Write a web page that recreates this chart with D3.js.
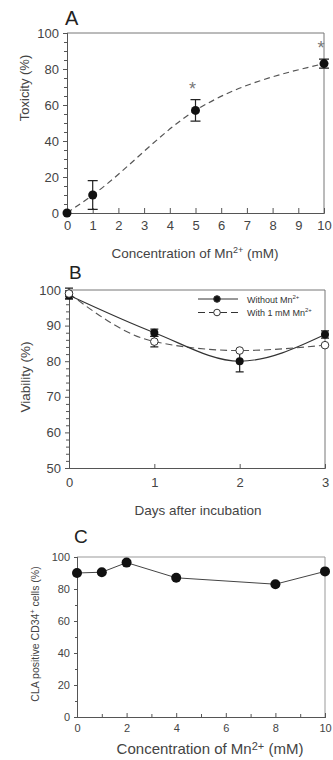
<!DOCTYPE html>
<html>
<head>
<meta charset="utf-8">
<script src="https://cdn.jsdelivr.net/npm/d3@7"></script>
<style>
  body { margin: 0; background: #fff; }
  svg { display: block; font-family: "Liberation Sans", Arial, sans-serif; }
  .tick text { fill: #444; }
</style>
</head>
<body>
<div id="chart"></div>
<script>
// Panel A: toxicity vs Mn2+ concentration
const concA = [0, 1, 5, 10];
const toxicity = [0, 10, 57, 83];
const toxicityErr = [0, 8, 6, 2.5];
const starred = [5, 10];
const ticksAX = [0, 1, 2, 3, 4, 5, 6, 7, 8, 9, 10];
const ticksAY = [0, 20, 40, 60, 80, 100];

// Panel B: viability over days
const days = [0, 1, 2, 3];
const viabWithout = [98.5, 88, 80, 87.5];
const viabWithoutErr = [1, 1, 3, 1];
const viabWith = [99, 85.5, 83, 84.5];
const viabWithErr = [1.5, 1.5, 0, 0];
const ticksBY = [50, 60, 70, 80, 90, 100];

// Panel C: CLA positive CD34+ cells
const concC = [0, 1, 2, 4, 8, 10];
const claPositive = [90, 90.5, 96.5, 87, 83, 91];
const ticksCX = [0, 2, 4, 6, 8, 10];
const ticksCY = [0, 20, 40, 60, 80, 100];

const W = 333, H = 760;
const svg = d3.select('#chart').append('svg')
  .attr('width', W).attr('height', H);

const axisCol = '#555';
const textCol = '#444';

function styleAxis(g, fs) {
  g.select('.domain').attr('stroke', axisCol);
  g.selectAll('.tick line').attr('stroke', axisCol);
  g.selectAll('.tick text').attr('font-size', fs).attr('fill', textCol);
}

function frame(x0, x1, y0, y1, col) {
  svg.append('path')
    .attr('d', `M${x0},${y0}H${x1}V${y1}`)
    .attr('fill', 'none').attr('stroke', col).attr('stroke-width', 1);
}

function errBars(data, x, y, cap) {
  data.forEach(d => {
    if (!d.e) return;
    svg.append('path')
      .attr('d', `M${x(d.x)},${y(d.v - d.e)}V${y(d.v + d.e)}` +
        `M${x(d.x) - cap},${y(d.v - d.e)}h${cap * 2}M${x(d.x) - cap},${y(d.v + d.e)}h${cap * 2}`)
      .attr('stroke', '#222').attr('stroke-width', 1.2).attr('fill', 'none');
  });
}

// ---------- Panel A ----------
const xA = d3.scaleLinear().domain([0, 10]).range([67, 324]);
const yA = d3.scaleLinear().domain([0, 100]).range([213, 33]);

frame(xA(0), xA(10), yA(100), yA(0), '#777');

svg.append('g').attr('transform', `translate(0,${yA(0)})`)
  .call(d3.axisBottom(xA).tickValues(ticksAX).tickSize(-5).tickPadding(8))
  .call(g => styleAxis(g, 13));
svg.append('g').attr('transform', `translate(${xA(0)},0)`)
  .call(d3.axisLeft(yA).tickValues(ticksAY).tickSize(4).tickPadding(4))
  .call(g => styleAxis(g, 13));
svg.append('g').attr('transform', `translate(${xA(0)},0)`)
  .call(d3.axisLeft(yA).tickValues(d3.range(5, 100, 5).filter(v => v % 20)).tickSize(3).tickFormat(''))
  .call(g => styleAxis(g, 13));

const dataA = concA.map((c, i) => ({ x: c, v: toxicity[i], e: toxicityErr[i] }));
const fitA = d3.line().x(d => xA(d.x)).y(d => yA(d.v)).curve(d3.curveMonotoneX);
svg.append('path').datum(dataA)
  .attr('d', fitA).attr('fill', 'none')
  .attr('stroke', '#555').attr('stroke-width', 1.2).attr('stroke-dasharray', '6,4');
errBars(dataA, xA, yA, 5);
svg.selectAll('.ptA').data(dataA).enter().append('circle')
  .attr('cx', d => xA(d.x)).attr('cy', d => yA(d.v)).attr('r', 4.5).attr('fill', '#111');
svg.selectAll('.starA').data(dataA.filter(d => starred.includes(d.x))).enter().append('text')
  .attr('x', d => xA(d.x) - 3).attr('y', d => yA(d.v + d.e) - 5)
  .attr('text-anchor', 'middle').attr('font-size', 18).attr('fill', '#777').text('*');

svg.append('text').attr('x', 65).attr('y', 25).attr('font-size', 20).attr('fill', '#222').text('A');
svg.append('text').attr('transform', 'translate(29,88) rotate(-90)')
  .attr('text-anchor', 'middle').attr('font-size', 13).attr('fill', textCol).text('Toxicity (%)');
const labA = svg.append('text').attr('x', 195).attr('y', 258)
  .attr('text-anchor', 'middle').attr('font-size', 13.5).attr('fill', textCol);
labA.append('tspan').text('Concentration of Mn');
labA.append('tspan').attr('dy', -5).attr('font-size', 9).text('2+');
labA.append('tspan').attr('dy', 5).text(' (mM)');

// ---------- Panel B ----------
const xB = d3.scaleLinear().domain([0, 3]).range([69, 325]);
const yB = d3.scaleLinear().domain([50, 100]).range([468, 290]);

frame(xB(0), xB(3), yB(100), yB(50), '#777');

svg.append('g').attr('transform', `translate(0,${yB(50)})`)
  .call(d3.axisBottom(xB).tickValues(days).tickFormat(d3.format('d')).tickSize(-4).tickPadding(10))
  .call(g => styleAxis(g, 13));
svg.append('g').attr('transform', `translate(${xB(0)},0)`)
  .call(d3.axisLeft(yB).tickValues(ticksBY).tickSize(4).tickPadding(4))
  .call(g => styleAxis(g, 13));
svg.append('g').attr('transform', `translate(${xB(0)},0)`)
  .call(d3.axisLeft(yB).tickValues(d3.range(52, 100, 2).filter(v => v % 10)).tickSize(3).tickFormat(''))
  .call(g => styleAxis(g, 13));

const lineB = d3.line().x(d => xB(d.x)).y(d => yB(d.v)).curve(d3.curveMonotoneX);
const dWithout = days.map((d, i) => ({ x: d, v: viabWithout[i], e: viabWithoutErr[i] }));
const dWith = days.map((d, i) => ({ x: d, v: viabWith[i], e: viabWithErr[i] }));

svg.append('path').datum(dWith).attr('d', lineB).attr('fill', 'none')
  .attr('stroke', '#555').attr('stroke-width', 1.1).attr('stroke-dasharray', '7,4');
svg.append('path').datum(dWithout).attr('d', lineB).attr('fill', 'none')
  .attr('stroke', '#333').attr('stroke-width', 1.1);
errBars(dWithout, xB, yB, 4);
errBars(dWith, xB, yB, 4);
svg.selectAll('.ptBw').data(dWithout).enter().append('circle')
  .attr('cx', d => xB(d.x)).attr('cy', d => yB(d.v)).attr('r', 4).attr('fill', '#111');
svg.selectAll('.ptBo').data(dWith).enter().append('circle')
  .attr('cx', d => xB(d.x)).attr('cy', d => yB(d.v)).attr('r', 3.8)
  .attr('fill', '#fff').attr('stroke', '#333').attr('stroke-width', 1);

// legend
const legend = [
  { label: 'Without Mn', dash: null, fill: '#111' },
  { label: 'With 1 mM Mn', dash: '7,4', fill: '#fff' }
];
legend.forEach((l, i) => {
  const ly = 299 + i * 13.5;
  svg.append('line').attr('x1', 198).attr('x2', 238).attr('y1', ly).attr('y2', ly)
    .attr('stroke', '#333').attr('stroke-width', 1)
    .attr('stroke-dasharray', l.dash);
  svg.append('circle').attr('cx', 217).attr('cy', ly).attr('r', 3.3)
    .attr('fill', l.fill).attr('stroke', '#333');
  const t = svg.append('text').attr('x', 247).attr('y', ly + 3.5)
    .attr('font-size', 9).attr('fill', '#333');
  t.append('tspan').text(l.label);
  t.append('tspan').attr('dy', -4).attr('font-size', 6).text('2+');
});

svg.append('text').attr('x', 69).attr('y', 279).attr('font-size', 19).attr('fill', '#222').text('B');
svg.append('text').attr('transform', 'translate(30,377) rotate(-90)')
  .attr('text-anchor', 'middle').attr('font-size', 13.5).attr('fill', textCol).text('Viability (%)');
svg.append('text').attr('x', 198).attr('y', 515)
  .attr('text-anchor', 'middle').attr('font-size', 13.5).attr('fill', textCol).text('Days after incubation');

// ---------- Panel C ----------
const xC = d3.scaleLinear().domain([0, 10]).range([77, 325]);
const yC = d3.scaleLinear().domain([0, 100]).range([717, 557]);

frame(xC(0), xC(10), yC(100), yC(0), '#999');

svg.append('g').attr('transform', `translate(0,${yC(0)})`)
  .call(d3.axisBottom(xC).tickValues(ticksCX).tickSize(-4).tickPadding(7))
  .call(g => styleAxis(g, 11));
svg.append('g').attr('transform', `translate(0,${yC(0)})`)
  .call(d3.axisBottom(xC).tickValues(d3.range(1, 10, 2)).tickSize(-3).tickFormat(''))
  .call(g => styleAxis(g, 11));
svg.append('g').attr('transform', `translate(${xC(0)},0)`)
  .call(d3.axisLeft(yC).tickValues(ticksCY).tickSize(3).tickPadding(4))
  .call(g => styleAxis(g, 11));
svg.append('g').attr('transform', `translate(${xC(0)},0)`)
  .call(d3.axisLeft(yC).tickValues(d3.range(10, 100, 20)).tickSize(2).tickFormat(''))
  .call(g => styleAxis(g, 11));

const dataC = concC.map((c, i) => ({ x: c, v: claPositive[i] }));
svg.append('path').datum(dataC)
  .attr('d', d3.line().x(d => xC(d.x)).y(d => yC(d.v)))
  .attr('fill', 'none').attr('stroke', '#444').attr('stroke-width', 1);
svg.selectAll('.ptC').data(dataC).enter().append('circle')
  .attr('cx', d => xC(d.x)).attr('cy', d => yC(d.v)).attr('r', 5).attr('fill', '#111');

svg.append('text').attr('x', 74).attr('y', 543).attr('font-size', 19).attr('fill', '#222').text('C');
const labCY = svg.append('text').attr('transform', 'translate(39,634) rotate(-90)')
  .attr('text-anchor', 'middle').attr('font-size', 10.5).attr('fill', textCol);
labCY.append('tspan').text('CLA positive CD34');
labCY.append('tspan').attr('dy', -4).attr('font-size', 7).text('+');
labCY.append('tspan').attr('dy', 4).text(' cells (%)');
const labCX = svg.append('text').attr('x', 210).attr('y', 754)
  .attr('text-anchor', 'middle').attr('font-size', 15).attr('fill', textCol);
labCX.append('tspan').text('Concentration of Mn');
labCX.append('tspan').attr('dy', -4).attr('font-size', 11).text('2+');
labCX.append('tspan').attr('dy', 4).text(' (mM)');
</script>
</body>
</html>
